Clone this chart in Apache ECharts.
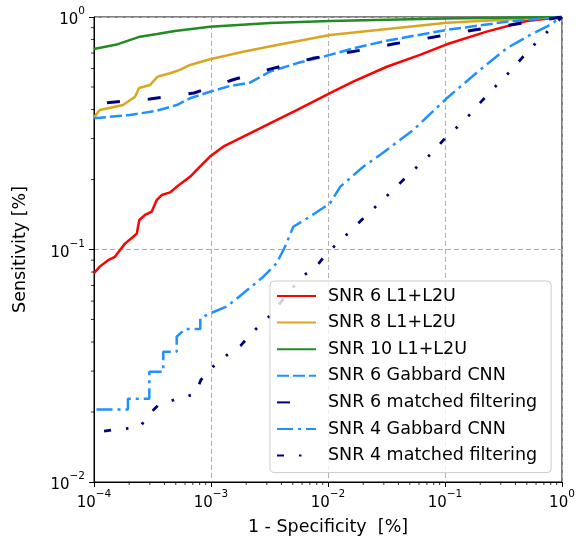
<!DOCTYPE html>
<html><head><meta charset="utf-8">
<script src="https://cdn.jsdelivr.net/npm/echarts@6/dist/echarts.min.js"></script>
<style>html,body{margin:0;padding:0;background:#fff}#c{width:579px;height:544px}</style>
</head><body><div id="c"></div>
<script>
// ---- data ----
const redX = [1e-4, 1.12e-4, 1.32e-4, 1.51e-4, 1.67e-4, 1.84e-4, 2.1e-4, 2.32e-4, 2.44e-4, 2.73e-4, 3.11e-4, 3.43e-4, 3.79e-4, 4.46e-4, 5.43e-4, 6.62e-4, 8.05e-4, 9.8e-4, 1.27e-3, 2.15e-3, 3.19e-3, 5.4e-3, 0.0104, 0.0164, 0.0318, 0.0611, 0.1035, 0.227, 0.499, 1];
const redY = [0.079, 0.0844, 0.090, 0.093, 0.0995, 0.106, 0.112, 0.117, 0.134, 0.141, 0.1455, 0.163, 0.1715, 0.176, 0.191, 0.2055, 0.227, 0.251, 0.2767, 0.316, 0.349, 0.398, 0.47, 0.527, 0.611, 0.687, 0.763, 0.865, 0.961, 1];

const orangeX = [1e-4, 1.12e-4, 1.77e-4, 2.24e-4, 2.43e-4, 3.01e-4, 3.5e-4, 4.46e-4, 5.43e-4, 6.62e-4, 9.8e-4, 1.88e-3, 3.67e-3, 0.0104, 0.104, 0.5, 1];
const orangeY = [0.37, 0.398, 0.418, 0.454, 0.495, 0.51, 0.554, 0.573, 0.592, 0.622, 0.658, 0.709, 0.758, 0.837, 0.945, 0.985, 1];

const greenX = [1e-4, 1.6e-4, 2.47e-4, 3.46e-4, 4.92e-4, 9.8e-4, 3.19e-3, 0.0104, 0.1, 1];
const greenY = [0.728, 0.764, 0.823, 0.845, 0.87, 0.908, 0.942, 0.961, 0.985, 1];

const gab6X = [1e-4, 2.03e-4, 3.43e-4, 5.09e-4, 6.62e-4, 9.8e-4, 1.45e-3, 2.15e-3, 3.19e-3, 5.4e-3, 0.0104, 0.0164, 0.0318, 0.1035, 0.336, 1];
const gab6Y = [0.367, 0.379, 0.395, 0.418, 0.447, 0.477, 0.505, 0.522, 0.582, 0.632, 0.687, 0.733, 0.791, 0.88, 0.954, 1];

const mf6X = [1.29e-4, 3.0e-4, 7.16e-4, 1.54e-3, 3.32e-3, 7.4e-3, 0.0164, 0.036, 0.0805, 0.177, 0.396, 1];
const mf6Y = [0.428, 0.444, 0.471, 0.537, 0.60, 0.664, 0.71, 0.765, 0.82, 0.88, 0.93, 1];

const gab4X = [1.05e-4, 1.95e-4, 1.95e-4, 2.97e-4, 2.97e-4, 3.91e-4, 3.91e-4, 5.09e-4, 5.09e-4, 6.0e-4, 8.1e-4, 8.1e-4, 9.8e-4, 1.36e-3, 1.89e-3, 2.8e-3, 3.64e-3, 4.29e-3, 5.05e-3, 7.0e-3, 0.0104, 0.0127, 0.02, 0.0278, 0.0536, 0.1035, 0.199, 0.336, 0.532, 0.74, 1];
const gab4Y = [0.0205, 0.0205, 0.0228, 0.0228, 0.0298, 0.0298, 0.0363, 0.0363, 0.0422, 0.0455, 0.0455, 0.0506, 0.0531, 0.0568, 0.0648, 0.0764, 0.0873, 0.1028, 0.1253, 0.1384, 0.158, 0.186, 0.227, 0.255, 0.3266, 0.447, 0.592, 0.733, 0.837, 0.908, 1];

const mf4X = [1.22e-4, 1.69e-4, 2.47e-4, 2.94e-4, 3.55e-4, 5.0e-4, 7.35e-4, 8.2e-4, 1.06e-3, 1.41e-3, 1.8e-3, 2.33e-3, 3.05e-3, 5.96e-3, 7.85e-3, 9.75e-3, 0.0131, 0.0164, 0.0214, 0.0284, 0.0357, 0.0455, 0.061, 0.078, 0.1, 0.1324, 0.1667, 0.212, 0.277, 0.3475, 0.452, 0.576, 0.726, 1];
const mf4Y = [0.01656, 0.0169, 0.0172, 0.01955, 0.0214, 0.0227, 0.0239, 0.0275, 0.0316, 0.0356, 0.0387, 0.0447, 0.0506, 0.0764, 0.0839, 0.0963, 0.1106, 0.1234, 0.1407, 0.1606, 0.18, 0.2024, 0.233, 0.261, 0.301, 0.343, 0.385, 0.442, 0.51, 0.573, 0.664, 0.758, 0.851, 1];

const seriesNames = ['SNR 6 L1+L2U', 'SNR 8 L1+L2U', 'SNR 10 L1+L2U', 'SNR 6 Gabbard CNN', 'SNR 6 matched filtering', 'SNR 4 Gabbard CNN', 'SNR 4 matched filtering'];

// minor tick positions (log axes)
const minorTicksX = [2e-4,3e-4,4e-4,5e-4,6e-4,7e-4,8e-4,9e-4, 2e-3,3e-3,4e-3,5e-3,6e-3,7e-3,8e-3,9e-3, 0.02,0.03,0.04,0.05,0.06,0.07,0.08,0.09, 0.2,0.3,0.4,0.5,0.6,0.7,0.8,0.9];
const minorTicksY = [0.02,0.03,0.04,0.05,0.06,0.07,0.08,0.09, 0.2,0.3,0.4,0.5,0.6,0.7,0.8,0.9];
const xMin = 1e-4, xMax = 1, yMin = 1e-2, yMax = 1;

// ---- chart ----
const FONT = 'DejaVu Sans';
const zip = (a, b) => a.map((v, i) => [v, b[i]]);
const expLabel = v => {
  const e = Math.round(Math.log10(v));
  return '{b|10}{s|' + (e < 0 ? '\u2212' + (-e) : String(e)) + '}';
};
const richSup = {
  b: { fontSize: 15, fontFamily: FONT, color: '#000', lineHeight: 22, verticalAlign: 'bottom' },
  s: { fontSize: 10.5, fontFamily: FONT, color: '#000', lineHeight: 22, verticalAlign: 'top' }
};

function lineSeries(name, x, y, color, type, width) {
  return {
    name, type: 'line', data: zip(x, y), showSymbol: false, symbol: 'none',
    lineStyle: { color, width: width || 2.5, type: type || 'solid', cap: 'butt' },
    itemStyle: { color }, emphasis: { disabled: true }
  };
}

const chart = echarts.init(document.getElementById('c'), null, { renderer: 'canvas' });
chart.setOption({
  animation: false,
  backgroundColor: '#fff',
  textStyle: { fontFamily: FONT },
  grid: { left: 94, right: 17, top: 17, bottom: 62, show: true, borderColor: '#000', borderWidth: 1, backgroundColor: 'transparent' },
  xAxis: {
    type: 'log', logBase: 10, min: xMin, max: xMax,
    name: '1 - Specificity  [%]', nameLocation: 'middle', nameGap: 36,
    nameTextStyle: { fontSize: 17.5, color: '#000', fontFamily: FONT },
    axisLine: { show: true, lineStyle: { color: '#000', width: 1 } },
    axisTick: { show: true, inside: false, length: 5, lineStyle: { color: '#000' } },
    axisLabel: { formatter: expLabel, rich: richSup, margin: 7, showMinLabel: true, showMaxLabel: true },
    splitLine: { show: true, lineStyle: { color: '#b0b0b0', width: 1, type: [5, 3] } },
    minorTick: { show: false }
  },
  yAxis: {
    type: 'log', logBase: 10, min: yMin, max: yMax,
    name: 'Sensitivity [%]', nameLocation: 'middle', nameGap: 65,
    nameTextStyle: { fontSize: 17.5, color: '#000', fontFamily: FONT },
    axisLine: { show: true, lineStyle: { color: '#000', width: 1 } },
    axisTick: { show: true, inside: false, length: 5, lineStyle: { color: '#000' } },
    axisLabel: { formatter: expLabel, rich: richSup, margin: 9, showMinLabel: true, showMaxLabel: true },
    splitLine: { show: true, lineStyle: { color: '#b0b0b0', width: 1, type: [5, 3] } }
  },
  legend: {
    data: seriesNames,
    orient: 'vertical', left: 270, top: 281,
    padding: [6, 14, 8, 6],
    itemWidth: 39, itemHeight: 14, itemGap: 8.6,
    itemStyle: { opacity: 0 },
    backgroundColor: 'rgba(255,255,255,0.8)', borderColor: '#cccccc', borderWidth: 1, borderRadius: 4,
    textStyle: { fontSize: 17.5, color: '#000', fontFamily: FONT, lineHeight: 18, padding: [0, 0, 0, 7] },
    selectedMode: false
  },
  series: [
    lineSeries(seriesNames[0], redX, redY, '#ff0000', 'solid'),
    lineSeries(seriesNames[1], orangeX, orangeY, '#daa520', 'solid'),
    lineSeries(seriesNames[2], greenX, greenY, '#228b22', 'solid'),
    lineSeries(seriesNames[3], gab6X, gab6Y, '#1e90ff', [12, 4]),
    lineSeries(seriesNames[4], mf6X, mf6Y, '#000080', [13, 28], 3),
    lineSeries(seriesNames[5], gab4X, gab4Y, '#1e90ff', [16, 5, 3, 5]),
    lineSeries(seriesNames[6], mf4X, mf4Y, '#000080', [7, 15, 2.5, 15, 2.5, 15], 2.8),
    {
      name: 'minorX', type: 'scatter', silent: true, clip: false, z: 5,
      data: minorTicksX.map(v => [v, yMin]),
      symbol: 'rect', symbolSize: [1, 3], symbolOffset: [0, 1.5],
      itemStyle: { color: '#000' }
    },
    {
      name: 'minorY', type: 'scatter', silent: true, clip: false, z: 5,
      data: minorTicksY.map(v => [xMin, v]),
      symbol: 'rect', symbolSize: [3, 1], symbolOffset: [-1.5, 0],
      itemStyle: { color: '#000' }
    }
  ]
});
</script></body></html>
